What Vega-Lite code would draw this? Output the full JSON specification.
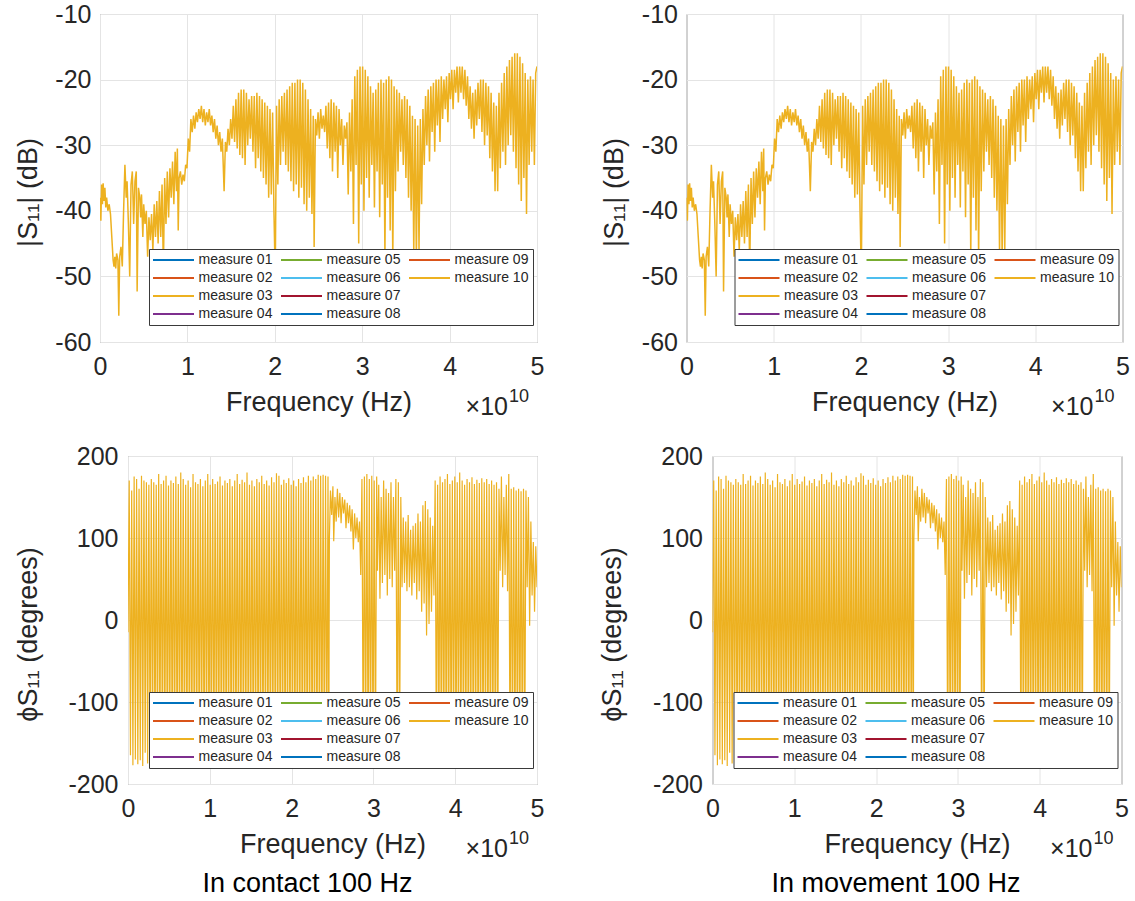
{
"$schema": "https://vega.github.io/schema/vega-lite/v6.json",
"background": "white",
"padding": {"left": 13, "top": 1, "right": 0, "bottom": 0},
"datasets": {
"mag": [
{"freq":0,"mag_db":-38},{"freq":0.01e10,"mag_db":-41.5},{"freq":0.018e10,"mag_db":-36},{"freq":0.028e10,"mag_db":-39},{"freq":0.036e10,"mag_db":-35.8},{"freq":0.046e10,"mag_db":-38.5},{"freq":0.056e10,"mag_db":-36.5},{"freq":0.066e10,"mag_db":-39.5},{"freq":0.076e10,"mag_db":-38},{"freq":0.09e10,"mag_db":-40},{"freq":0.105e10,"mag_db":-39},{"freq":0.12e10,"mag_db":-40.5},{"freq":0.135e10,"mag_db":-44},{"freq":0.15e10,"mag_db":-47.5},{"freq":0.16e10,"mag_db":-48.5},{"freq":0.17e10,"mag_db":-47},{"freq":0.18e10,"mag_db":-48.8},{"freq":0.19e10,"mag_db":-46.5},{"freq":0.205e10,"mag_db":-47.5},{"freq":0.215e10,"mag_db":-56},{"freq":0.225e10,"mag_db":-47},{"freq":0.24e10,"mag_db":-45.5},{"freq":0.255e10,"mag_db":-48.5},{"freq":0.27e10,"mag_db":-40},{"freq":0.285e10,"mag_db":-33},{"freq":0.3e10,"mag_db":-38},{"freq":0.31e10,"mag_db":-35.5},{"freq":0.325e10,"mag_db":-42},{"freq":0.34e10,"mag_db":-50},{"freq":0.355e10,"mag_db":-36},{"freq":0.37e10,"mag_db":-34},{"freq":0.385e10,"mag_db":-42},{"freq":0.4e10,"mag_db":-35.5},{"freq":0.415e10,"mag_db":-34},{"freq":0.425e10,"mag_db":-52.3},{"freq":0.44e10,"mag_db":-36.5},{"freq":0.455e10,"mag_db":-38},{"freq":0.465e10,"mag_db":-41},{"freq":0.475e10,"mag_db":-37.5},{"freq":0.49e10,"mag_db":-44},{"freq":0.5e10,"mag_db":-39},{"freq":0.515e10,"mag_db":-42},{"freq":0.53e10,"mag_db":-40},{"freq":0.545e10,"mag_db":-47},{"freq":0.56e10,"mag_db":-41},{"freq":0.575e10,"mag_db":-44.5},{"freq":0.59e10,"mag_db":-40.5},{"freq":0.605e10,"mag_db":-46},{"freq":0.62e10,"mag_db":-39},{"freq":0.635e10,"mag_db":-44},{"freq":0.65e10,"mag_db":-38.5},{"freq":0.665e10,"mag_db":-45},{"freq":0.68e10,"mag_db":-37},{"freq":0.695e10,"mag_db":-44},{"freq":0.71e10,"mag_db":-36},{"freq":0.725e10,"mag_db":-49},{"freq":0.74e10,"mag_db":-35},{"freq":0.755e10,"mag_db":-42},{"freq":0.77e10,"mag_db":-34},{"freq":0.785e10,"mag_db":-41},{"freq":0.8e10,"mag_db":-33.5},{"freq":0.815e10,"mag_db":-38},{"freq":0.83e10,"mag_db":-32.5},{"freq":0.845e10,"mag_db":-39},{"freq":0.86e10,"mag_db":-31},{"freq":0.875e10,"mag_db":-37},{"freq":0.885e10,"mag_db":-30.5},{"freq":0.895e10,"mag_db":-43},{"freq":0.905e10,"mag_db":-35},{"freq":0.92e10,"mag_db":-34},{"freq":0.935e10,"mag_db":-36},{"freq":0.95e10,"mag_db":-34.5},{"freq":0.965e10,"mag_db":-35.5},{"freq":0.98e10,"mag_db":-33},{"freq":0.995e10,"mag_db":-33.5},{"freq":1.01e10,"mag_db":-29},{"freq":1.025e10,"mag_db":-31},{"freq":1.04e10,"mag_db":-26},{"freq":1.055e10,"mag_db":-28},{"freq":1.07e10,"mag_db":-25.5},{"freq":1.085e10,"mag_db":-27.5},
{"freq":1.1e10,"mag_db":-25},{"freq":1.115e10,"mag_db":-26.5},{"freq":1.13e10,"mag_db":-24.5},{"freq":1.145e10,"mag_db":-26},{"freq":1.16e10,"mag_db":-24},{"freq":1.175e10,"mag_db":-26.5},{"freq":1.19e10,"mag_db":-24.5},{"freq":1.205e10,"mag_db":-27},{"freq":1.22e10,"mag_db":-25},{"freq":1.235e10,"mag_db":-26.5},{"freq":1.25e10,"mag_db":-24.5},{"freq":1.265e10,"mag_db":-27},{"freq":1.28e10,"mag_db":-25.5},{"freq":1.295e10,"mag_db":-28},{"freq":1.31e10,"mag_db":-26},{"freq":1.325e10,"mag_db":-29},{"freq":1.34e10,"mag_db":-27},{"freq":1.355e10,"mag_db":-30},{"freq":1.37e10,"mag_db":-28},{"freq":1.385e10,"mag_db":-31},{"freq":1.4e10,"mag_db":-29},{"freq":1.42e10,"mag_db":-37},{"freq":1.435e10,"mag_db":-29.5},{"freq":1.45e10,"mag_db":-31},{"freq":1.465e10,"mag_db":-27.5},{"freq":1.48e10,"mag_db":-30},{"freq":1.495e10,"mag_db":-26},{"freq":1.51e10,"mag_db":-29},{"freq":1.525e10,"mag_db":-24},{"freq":1.54e10,"mag_db":-29.5},{"freq":1.555e10,"mag_db":-23},{"freq":1.57e10,"mag_db":-30.5},{"freq":1.585e10,"mag_db":-22},{"freq":1.6e10,"mag_db":-31.5},{"freq":1.615e10,"mag_db":-21.5},{"freq":1.63e10,"mag_db":-32},{"freq":1.645e10,"mag_db":-21.5},{"freq":1.66e10,"mag_db":-33},{"freq":1.675e10,"mag_db":-22},{"freq":1.69e10,"mag_db":-30},{"freq":1.705e10,"mag_db":-23},{"freq":1.72e10,"mag_db":-29},{"freq":1.735e10,"mag_db":-22.5},{"freq":1.75e10,"mag_db":-31},{"freq":1.765e10,"mag_db":-22.5},{"freq":1.78e10,"mag_db":-33.5},{"freq":1.795e10,"mag_db":-22},{"freq":1.81e10,"mag_db":-32},{"freq":1.825e10,"mag_db":-22.5},{"freq":1.84e10,"mag_db":-34},{"freq":1.855e10,"mag_db":-23},{"freq":1.87e10,"mag_db":-35},{"freq":1.885e10,"mag_db":-23.5},{"freq":1.9e10,"mag_db":-36},{"freq":1.915e10,"mag_db":-24},{"freq":1.93e10,"mag_db":-38},{"freq":1.945e10,"mag_db":-24.5},{"freq":1.96e10,"mag_db":-37.5},{"freq":1.975e10,"mag_db":-25},{"freq":1.99e10,"mag_db":-40},{"freq":2.005e10,"mag_db":-50},{"freq":2.02e10,"mag_db":-24},{"freq":2.035e10,"mag_db":-36},{"freq":2.05e10,"mag_db":-23},{"freq":2.065e10,"mag_db":-33},{"freq":2.08e10,"mag_db":-22.5},{"freq":2.095e10,"mag_db":-31},{"freq":2.11e10,"mag_db":-22},{"freq":2.125e10,"mag_db":-33},{"freq":2.14e10,"mag_db":-21.5},{"freq":2.155e10,"mag_db":-34},{"freq":2.17e10,"mag_db":-21},{"freq":2.185e10,"mag_db":-35.5},{"freq":2.2e10,"mag_db":-20.5},{"freq":2.215e10,"mag_db":-37},{"freq":2.23e10,"mag_db":-20.5},{"freq":2.245e10,"mag_db":-36},{"freq":2.26e10,"mag_db":-20},{"freq":2.275e10,"mag_db":-38},{"freq":2.29e10,"mag_db":-20},{"freq":2.305e10,"mag_db":-36.5},{"freq":2.32e10,"mag_db":-20.5},{"freq":2.335e10,"mag_db":-39},{"freq":2.35e10,"mag_db":-21.5},{"freq":2.365e10,"mag_db":-40},{"freq":2.38e10,"mag_db":-23},{"freq":2.395e10,"mag_db":-38},{"freq":2.41e10,"mag_db":-24.5},{"freq":2.425e10,"mag_db":-40.5},{"freq":2.44e10,"mag_db":-25.5},{"freq":2.45e10,"mag_db":-45.5},
{"freq":2.465e10,"mag_db":-26},{"freq":2.48e10,"mag_db":-28.5},{"freq":2.495e10,"mag_db":-25},{"freq":2.51e10,"mag_db":-29},{"freq":2.525e10,"mag_db":-24.5},{"freq":2.54e10,"mag_db":-27.5},{"freq":2.555e10,"mag_db":-25.5},{"freq":2.57e10,"mag_db":-28},{"freq":2.585e10,"mag_db":-24},{"freq":2.6e10,"mag_db":-30.5},{"freq":2.615e10,"mag_db":-23.5},{"freq":2.63e10,"mag_db":-32},{"freq":2.645e10,"mag_db":-23},{"freq":2.66e10,"mag_db":-34},{"freq":2.675e10,"mag_db":-23.5},{"freq":2.69e10,"mag_db":-31},{"freq":2.705e10,"mag_db":-24},{"freq":2.72e10,"mag_db":-35},{"freq":2.735e10,"mag_db":-24.5},{"freq":2.75e10,"mag_db":-30},{"freq":2.765e10,"mag_db":-26},{"freq":2.78e10,"mag_db":-33},{"freq":2.795e10,"mag_db":-27},{"freq":2.81e10,"mag_db":-29},{"freq":2.825e10,"mag_db":-26.5},{"freq":2.84e10,"mag_db":-37.5},{"freq":2.855e10,"mag_db":-25},{"freq":2.87e10,"mag_db":-34},{"freq":2.885e10,"mag_db":-23},{"freq":2.9e10,"mag_db":-42},{"freq":2.915e10,"mag_db":-19.5},{"freq":2.93e10,"mag_db":-33},{"freq":2.945e10,"mag_db":-18.5},{"freq":2.96e10,"mag_db":-45},{"freq":2.975e10,"mag_db":-18},{"freq":2.99e10,"mag_db":-36},{"freq":3.005e10,"mag_db":-18},{"freq":3.02e10,"mag_db":-40},{"freq":3.035e10,"mag_db":-18.5},{"freq":3.05e10,"mag_db":-35},{"freq":3.065e10,"mag_db":-19.5},{"freq":3.08e10,"mag_db":-38},{"freq":3.095e10,"mag_db":-21},{"freq":3.11e10,"mag_db":-33},{"freq":3.125e10,"mag_db":-22},{"freq":3.14e10,"mag_db":-39.5},{"freq":3.155e10,"mag_db":-21.5},{"freq":3.17e10,"mag_db":-34},{"freq":3.185e10,"mag_db":-20.5},{"freq":3.2e10,"mag_db":-41},{"freq":3.215e10,"mag_db":-20},{"freq":3.23e10,"mag_db":-36},{"freq":3.245e10,"mag_db":-20.5},{"freq":3.26e10,"mag_db":-47},{"freq":3.275e10,"mag_db":-20},{"freq":3.29e10,"mag_db":-38},{"freq":3.305e10,"mag_db":-19.5},{"freq":3.32e10,"mag_db":-43},{"freq":3.335e10,"mag_db":-20},{"freq":3.35e10,"mag_db":-47.5},{"freq":3.365e10,"mag_db":-21},{"freq":3.38e10,"mag_db":-37},{"freq":3.395e10,"mag_db":-21.5},{"freq":3.41e10,"mag_db":-34},{"freq":3.425e10,"mag_db":-22},{"freq":3.44e10,"mag_db":-31},{"freq":3.455e10,"mag_db":-23},{"freq":3.47e10,"mag_db":-33},{"freq":3.485e10,"mag_db":-22.5},{"freq":3.5e10,"mag_db":-35},{"freq":3.515e10,"mag_db":-23},{"freq":3.53e10,"mag_db":-38},{"freq":3.545e10,"mag_db":-24},{"freq":3.56e10,"mag_db":-40},{"freq":3.575e10,"mag_db":-25.5},{"freq":3.59e10,"mag_db":-46.5},{"freq":3.605e10,"mag_db":-26},{"freq":3.62e10,"mag_db":-48},{"freq":3.635e10,"mag_db":-27},{"freq":3.65e10,"mag_db":-46},{"freq":3.665e10,"mag_db":-26},{"freq":3.68e10,"mag_db":-39},{"freq":3.695e10,"mag_db":-24.5},{"freq":3.71e10,"mag_db":-33},{"freq":3.725e10,"mag_db":-22.5},{"freq":3.74e10,"mag_db":-30},{"freq":3.755e10,"mag_db":-21.5},{"freq":3.77e10,"mag_db":-32.5},{"freq":3.785e10,"mag_db":-21},{"freq":3.8e10,"mag_db":-28},{"freq":3.815e10,"mag_db":-20.5},{"freq":3.83e10,"mag_db":-31},{"freq":3.845e10,"mag_db":-20},{"freq":3.86e10,"mag_db":-27},{"freq":3.875e10,"mag_db":-20},{"freq":3.89e10,"mag_db":-29.5},{"freq":3.905e10,"mag_db":-19.5},{"freq":3.92e10,"mag_db":-26},{"freq":3.935e10,"mag_db":-20},{"freq":3.95e10,"mag_db":-24.5},{"freq":3.965e10,"mag_db":-19.5},{"freq":3.98e10,"mag_db":-26.5},{"freq":3.995e10,"mag_db":-19},{"freq":4.01e10,"mag_db":-23},{"freq":4.025e10,"mag_db":-18.5},{"freq":4.04e10,"mag_db":-24.5},{"freq":4.055e10,"mag_db":-18.5},{"freq":4.07e10,"mag_db":-22},{"freq":4.085e10,"mag_db":-18},{"freq":4.1e10,"mag_db":-23.5},{"freq":4.115e10,"mag_db":-18},{"freq":4.13e10,"mag_db":-22},{"freq":4.145e10,"mag_db":-18},{"freq":4.16e10,"mag_db":-23},{"freq":4.175e10,"mag_db":-18.5},{"freq":4.19e10,"mag_db":-24},{"freq":4.205e10,"mag_db":-19.5},{"freq":4.22e10,"mag_db":-26},{"freq":4.235e10,"mag_db":-21},{"freq":4.25e10,"mag_db":-27.5},{"freq":4.265e10,"mag_db":-22},{"freq":4.28e10,"mag_db":-29},{"freq":4.295e10,"mag_db":-21.5},{"freq":4.31e10,"mag_db":-27},{"freq":4.325e10,"mag_db":-20.5},{"freq":4.34e10,"mag_db":-26},{"freq":4.355e10,"mag_db":-20},{"freq":4.37e10,"mag_db":-28},{"freq":4.385e10,"mag_db":-20},{"freq":4.4e10,"mag_db":-30},{"freq":4.415e10,"mag_db":-20.5},{"freq":4.43e10,"mag_db":-28.5},{"freq":4.445e10,"mag_db":-21},{"freq":4.46e10,"mag_db":-32},{"freq":4.475e10,"mag_db":-22},{"freq":4.49e10,"mag_db":-34},{"freq":4.505e10,"mag_db":-23.5},{"freq":4.52e10,"mag_db":-37},{"freq":4.535e10,"mag_db":-24},{"freq":4.55e10,"mag_db":-37},{"freq":4.565e10,"mag_db":-22},{"freq":4.58e10,"mag_db":-33.5},{"freq":4.595e10,"mag_db":-20.5},{"freq":4.61e10,"mag_db":-31},{"freq":4.625e10,"mag_db":-19},{"freq":4.64e10,"mag_db":-33},{"freq":4.655e10,"mag_db":-18},{"freq":4.67e10,"mag_db":-30},{"freq":4.685e10,"mag_db":-17},{"freq":4.7e10,"mag_db":-28.5},{"freq":4.715e10,"mag_db":-16.5},{"freq":4.73e10,"mag_db":-31},{"freq":4.745e10,"mag_db":-16},{"freq":4.76e10,"mag_db":-33.5},{"freq":4.775e10,"mag_db":-16},{"freq":4.79e10,"mag_db":-36},{"freq":4.805e10,"mag_db":-16.5},{"freq":4.82e10,"mag_db":-38.5},{"freq":4.835e10,"mag_db":-17.5},{"freq":4.85e10,"mag_db":-35},{"freq":4.865e10,"mag_db":-19},{"freq":4.88e10,"mag_db":-40.5},{"freq":4.895e10,"mag_db":-20},{"freq":4.91e10,"mag_db":-33},{"freq":4.925e10,"mag_db":-19.5},{"freq":4.94e10,"mag_db":-31},{"freq":4.955e10,"mag_db":-20},{"freq":4.97e10,"mag_db":-33},{"freq":4.985e10,"mag_db":-19},{"freq":5e10,"mag_db":-18}
],
"phase": [
{"freq":0,"phase_deg":-15},{"freq":0.015e10,"phase_deg":170},{"freq":0.03e10,"phase_deg":-165},{"freq":0.045e10,"phase_deg":158},{"freq":0.06e10,"phase_deg":-177},{"freq":0.075e10,"phase_deg":175},{"freq":0.09e10,"phase_deg":-170},{"freq":0.105e10,"phase_deg":172},{"freq":0.12e10,"phase_deg":-176},{"freq":0.135e10,"phase_deg":160},{"freq":0.15e10,"phase_deg":-171},{"freq":0.165e10,"phase_deg":176},{"freq":0.18e10,"phase_deg":-178},{"freq":0.195e10,"phase_deg":170},{"freq":0.21e10,"phase_deg":-162},{"freq":0.225e10,"phase_deg":168},{"freq":0.24e10,"phase_deg":-175},{"freq":0.255e10,"phase_deg":165},{"freq":0.27e10,"phase_deg":-178},{"freq":0.285e10,"phase_deg":172},{"freq":0.3e10,"phase_deg":-176},{"freq":0.315e10,"phase_deg":168},{"freq":0.33e10,"phase_deg":-179},{"freq":0.345e10,"phase_deg":165},{"freq":0.36e10,"phase_deg":-177},{"freq":0.375e10,"phase_deg":178},{"freq":0.39e10,"phase_deg":-178},{"freq":0.405e10,"phase_deg":166},{"freq":0.42e10,"phase_deg":-176},{"freq":0.435e10,"phase_deg":170},{"freq":0.45e10,"phase_deg":-179},{"freq":0.465e10,"phase_deg":176},{"freq":0.48e10,"phase_deg":-177},{"freq":0.495e10,"phase_deg":164},{"freq":0.51e10,"phase_deg":-178},{"freq":0.525e10,"phase_deg":170},{"freq":0.54e10,"phase_deg":-176},{"freq":0.555e10,"phase_deg":167},{"freq":0.57e10,"phase_deg":-179},{"freq":0.585e10,"phase_deg":175},{"freq":0.6e10,"phase_deg":-177},{"freq":0.615e10,"phase_deg":166},{"freq":0.63e10,"phase_deg":-178},{"freq":0.645e10,"phase_deg":180},{"freq":0.66e10,"phase_deg":-176},{"freq":0.675e10,"phase_deg":172},{"freq":0.69e10,"phase_deg":-179},{"freq":0.705e10,"phase_deg":165},{"freq":0.72e10,"phase_deg":-177},{"freq":0.735e10,"phase_deg":170},{"freq":0.75e10,"phase_deg":-178},{"freq":0.765e10,"phase_deg":162},{"freq":0.78e10,"phase_deg":-176},{"freq":0.795e10,"phase_deg":178},{"freq":0.81e10,"phase_deg":-179},{"freq":0.825e10,"phase_deg":168},{"freq":0.84e10,"phase_deg":-177},{"freq":0.855e10,"phase_deg":166},{"freq":0.87e10,"phase_deg":-178},{"freq":0.885e10,"phase_deg":172},{"freq":0.9e10,"phase_deg":-176},{"freq":0.915e10,"phase_deg":163},{"freq":0.93e10,"phase_deg":-179},{"freq":0.945e10,"phase_deg":170},{"freq":0.96e10,"phase_deg":-177},{"freq":0.975e10,"phase_deg":178},{"freq":0.99e10,"phase_deg":-178},{"freq":1.005e10,"phase_deg":165},{"freq":1.02e10,"phase_deg":-176},{"freq":1.035e10,"phase_deg":172},{"freq":1.05e10,"phase_deg":-179},{"freq":1.065e10,"phase_deg":166},{"freq":1.08e10,"phase_deg":-177},{"freq":1.095e10,"phase_deg":169},{"freq":1.11e10,"phase_deg":-178},{"freq":1.125e10,"phase_deg":175},{"freq":1.14e10,"phase_deg":-176},{"freq":1.155e10,"phase_deg":164},{"freq":1.17e10,"phase_deg":-179},{"freq":1.185e10,"phase_deg":170},{"freq":1.2e10,"phase_deg":-177},{"freq":1.215e10,"phase_deg":167},{"freq":1.23e10,"phase_deg":-178},{"freq":1.245e10,"phase_deg":172},{"freq":1.26e10,"phase_deg":-176},{"freq":1.275e10,"phase_deg":163},{"freq":1.29e10,"phase_deg":-179},{"freq":1.305e10,"phase_deg":170},{"freq":1.32e10,"phase_deg":-177},{"freq":1.335e10,"phase_deg":178},{"freq":1.35e10,"phase_deg":-178},{"freq":1.365e10,"phase_deg":166},{"freq":1.38e10,"phase_deg":-176},{"freq":1.395e10,"phase_deg":171},{"freq":1.41e10,"phase_deg":-179},{"freq":1.425e10,"phase_deg":168},{"freq":1.44e10,"phase_deg":-177},{"freq":1.455e10,"phase_deg":180},{"freq":1.47e10,"phase_deg":-178},{"freq":1.485e10,"phase_deg":165},{"freq":1.5e10,"phase_deg":-176},{"freq":1.515e10,"phase_deg":170},{"freq":1.53e10,"phase_deg":-179},{"freq":1.545e10,"phase_deg":163},{"freq":1.56e10,"phase_deg":-177},{"freq":1.575e10,"phase_deg":172},{"freq":1.59e10,"phase_deg":-178},{"freq":1.605e10,"phase_deg":168},{"freq":1.62e10,"phase_deg":-176},{"freq":1.635e10,"phase_deg":176},{"freq":1.65e10,"phase_deg":-179},{"freq":1.665e10,"phase_deg":166},{"freq":1.68e10,"phase_deg":-177},{"freq":1.695e10,"phase_deg":170},{"freq":1.71e10,"phase_deg":-178},{"freq":1.725e10,"phase_deg":164},{"freq":1.74e10,"phase_deg":-176},{"freq":1.755e10,"phase_deg":174},{"freq":1.77e10,"phase_deg":-179},{"freq":1.785e10,"phase_deg":168},{"freq":1.8e10,"phase_deg":-177},{"freq":1.815e10,"phase_deg":179},{"freq":1.83e10,"phase_deg":-178},{"freq":1.845e10,"phase_deg":176},{"freq":1.86e10,"phase_deg":-176},{"freq":1.875e10,"phase_deg":165},{"freq":1.89e10,"phase_deg":-179},{"freq":1.905e10,"phase_deg":171},{"freq":1.92e10,"phase_deg":-177},{"freq":1.935e10,"phase_deg":167},{"freq":1.95e10,"phase_deg":-178},{"freq":1.965e10,"phase_deg":173},{"freq":1.98e10,"phase_deg":-176},{"freq":1.995e10,"phase_deg":165},{"freq":2.01e10,"phase_deg":-179},{"freq":2.025e10,"phase_deg":170},{"freq":2.04e10,"phase_deg":-177},{"freq":2.055e10,"phase_deg":163},{"freq":2.07e10,"phase_deg":-178},{"freq":2.085e10,"phase_deg":172},{"freq":2.1e10,"phase_deg":-176},{"freq":2.115e10,"phase_deg":167},{"freq":2.13e10,"phase_deg":-179},{"freq":2.145e10,"phase_deg":174},{"freq":2.16e10,"phase_deg":-177},{"freq":2.175e10,"phase_deg":168},{"freq":2.19e10,"phase_deg":-178},{"freq":2.205e10,"phase_deg":176},{"freq":2.22e10,"phase_deg":-176},{"freq":2.235e10,"phase_deg":170},{"freq":2.25e10,"phase_deg":-179},{"freq":2.265e10,"phase_deg":175},{"freq":2.28e10,"phase_deg":-177},{"freq":2.295e10,"phase_deg":172},{"freq":2.31e10,"phase_deg":-178},{"freq":2.325e10,"phase_deg":177},{"freq":2.34e10,"phase_deg":-176},{"freq":2.355e10,"phase_deg":176},{"freq":2.37e10,"phase_deg":-179},{"freq":2.385e10,"phase_deg":177},{"freq":2.4e10,"phase_deg":-177},{"freq":2.415e10,"phase_deg":176},{"freq":2.43e10,"phase_deg":-178},{"freq":2.445e10,"phase_deg":175},{"freq":2.455e10,"phase_deg":-170},{"freq":2.462e10,"phase_deg":100},
{"freq":2.475e10,"phase_deg":158},{"freq":2.49e10,"phase_deg":128},{"freq":2.505e10,"phase_deg":163},{"freq":2.515e10,"phase_deg":96},{"freq":2.53e10,"phase_deg":150},{"freq":2.545e10,"phase_deg":120},{"freq":2.56e10,"phase_deg":160},{"freq":2.575e10,"phase_deg":125},{"freq":2.59e10,"phase_deg":155},{"freq":2.605e10,"phase_deg":118},{"freq":2.62e10,"phase_deg":150},{"freq":2.635e10,"phase_deg":130},{"freq":2.65e10,"phase_deg":147},{"freq":2.665e10,"phase_deg":112},{"freq":2.68e10,"phase_deg":143},{"freq":2.695e10,"phase_deg":118},{"freq":2.71e10,"phase_deg":140},{"freq":2.725e10,"phase_deg":108},{"freq":2.74e10,"phase_deg":135},{"freq":2.755e10,"phase_deg":86},{"freq":2.77e10,"phase_deg":130},{"freq":2.785e10,"phase_deg":100},{"freq":2.8e10,"phase_deg":125},{"freq":2.815e10,"phase_deg":95},{"freq":2.83e10,"phase_deg":120},{"freq":2.845e10,"phase_deg":55},{"freq":2.86e10,"phase_deg":172},
{"freq":2.875e10,"phase_deg":-178},{"freq":2.89e10,"phase_deg":175},{"freq":2.905e10,"phase_deg":-177},{"freq":2.92e10,"phase_deg":178},{"freq":2.935e10,"phase_deg":-179},{"freq":2.95e10,"phase_deg":172},{"freq":2.965e10,"phase_deg":-177},{"freq":2.98e10,"phase_deg":176},{"freq":2.995e10,"phase_deg":-178},{"freq":3.01e10,"phase_deg":170},{"freq":3.025e10,"phase_deg":-176},{"freq":3.04e10,"phase_deg":175},
{"freq":3.05e10,"phase_deg":60},{"freq":3.065e10,"phase_deg":165},{"freq":3.08e10,"phase_deg":26},{"freq":3.095e10,"phase_deg":150},{"freq":3.11e10,"phase_deg":45},{"freq":3.125e10,"phase_deg":170},{"freq":3.14e10,"phase_deg":55},{"freq":3.155e10,"phase_deg":160},{"freq":3.17e10,"phase_deg":30},{"freq":3.185e10,"phase_deg":155},{"freq":3.2e10,"phase_deg":50},{"freq":3.215e10,"phase_deg":168},{"freq":3.23e10,"phase_deg":40},{"freq":3.245e10,"phase_deg":150},{"freq":3.26e10,"phase_deg":60},{"freq":3.275e10,"phase_deg":172},
{"freq":3.29e10,"phase_deg":-178},{"freq":3.305e10,"phase_deg":168},{"freq":3.32e10,"phase_deg":-176},{"freq":3.335e10,"phase_deg":150},
{"freq":3.35e10,"phase_deg":40},{"freq":3.365e10,"phase_deg":125},{"freq":3.38e10,"phase_deg":45},{"freq":3.395e10,"phase_deg":120},{"freq":3.41e10,"phase_deg":35},{"freq":3.425e10,"phase_deg":128},{"freq":3.44e10,"phase_deg":40},{"freq":3.455e10,"phase_deg":110},{"freq":3.47e10,"phase_deg":30},{"freq":3.485e10,"phase_deg":115},{"freq":3.5e10,"phase_deg":45},{"freq":3.515e10,"phase_deg":118},{"freq":3.53e10,"phase_deg":25},{"freq":3.545e10,"phase_deg":130},{"freq":3.56e10,"phase_deg":35},{"freq":3.575e10,"phase_deg":120},{"freq":3.59e10,"phase_deg":10},{"freq":3.605e10,"phase_deg":140},{"freq":3.62e10,"phase_deg":20},{"freq":3.635e10,"phase_deg":145},{"freq":3.65e10,"phase_deg":-19},{"freq":3.665e10,"phase_deg":135},{"freq":3.68e10,"phase_deg":-5},{"freq":3.695e10,"phase_deg":125},{"freq":3.71e10,"phase_deg":10},{"freq":3.725e10,"phase_deg":115},{"freq":3.74e10,"phase_deg":30},{"freq":3.755e10,"phase_deg":170},
{"freq":3.77e10,"phase_deg":-177},{"freq":3.785e10,"phase_deg":165},{"freq":3.8e10,"phase_deg":-178},{"freq":3.815e10,"phase_deg":175},{"freq":3.83e10,"phase_deg":-176},{"freq":3.845e10,"phase_deg":168},{"freq":3.86e10,"phase_deg":-179},{"freq":3.875e10,"phase_deg":172},{"freq":3.89e10,"phase_deg":-177},{"freq":3.905e10,"phase_deg":178},{"freq":3.92e10,"phase_deg":-178},{"freq":3.935e10,"phase_deg":166},{"freq":3.95e10,"phase_deg":-176},{"freq":3.965e10,"phase_deg":170},{"freq":3.98e10,"phase_deg":-179},{"freq":3.995e10,"phase_deg":175},{"freq":4.01e10,"phase_deg":-177},{"freq":4.025e10,"phase_deg":168},{"freq":4.04e10,"phase_deg":-178},{"freq":4.055e10,"phase_deg":180},{"freq":4.07e10,"phase_deg":-176},{"freq":4.085e10,"phase_deg":170},{"freq":4.1e10,"phase_deg":-179},{"freq":4.115e10,"phase_deg":165},{"freq":4.13e10,"phase_deg":-177},{"freq":4.145e10,"phase_deg":172},{"freq":4.16e10,"phase_deg":-178},{"freq":4.175e10,"phase_deg":168},{"freq":4.19e10,"phase_deg":-176},{"freq":4.205e10,"phase_deg":174},{"freq":4.22e10,"phase_deg":-179},{"freq":4.235e10,"phase_deg":166},{"freq":4.25e10,"phase_deg":-177},{"freq":4.265e10,"phase_deg":171},{"freq":4.28e10,"phase_deg":-178},{"freq":4.295e10,"phase_deg":167},{"freq":4.31e10,"phase_deg":-176},{"freq":4.325e10,"phase_deg":173},{"freq":4.34e10,"phase_deg":-179},{"freq":4.355e10,"phase_deg":168},{"freq":4.37e10,"phase_deg":-177},{"freq":4.385e10,"phase_deg":172},{"freq":4.4e10,"phase_deg":-178},{"freq":4.415e10,"phase_deg":166},{"freq":4.43e10,"phase_deg":-176},{"freq":4.445e10,"phase_deg":170},{"freq":4.46e10,"phase_deg":-179},{"freq":4.475e10,"phase_deg":165},{"freq":4.49e10,"phase_deg":-177},{"freq":4.505e10,"phase_deg":168},{"freq":4.52e10,"phase_deg":-178},{"freq":4.535e10,"phase_deg":160},
{"freq":4.55e10,"phase_deg":60},{"freq":4.565e10,"phase_deg":175},{"freq":4.58e10,"phase_deg":40},{"freq":4.595e10,"phase_deg":150},{"freq":4.61e10,"phase_deg":55},{"freq":4.625e10,"phase_deg":165},{"freq":4.64e10,"phase_deg":35},{"freq":4.655e10,"phase_deg":178},
{"freq":4.67e10,"phase_deg":-177},{"freq":4.685e10,"phase_deg":160},{"freq":4.7e10,"phase_deg":-178},{"freq":4.715e10,"phase_deg":162},{"freq":4.73e10,"phase_deg":-176},{"freq":4.745e10,"phase_deg":158},{"freq":4.76e10,"phase_deg":-179},{"freq":4.775e10,"phase_deg":160},{"freq":4.79e10,"phase_deg":-177},{"freq":4.805e10,"phase_deg":157},{"freq":4.82e10,"phase_deg":-178},{"freq":4.835e10,"phase_deg":160},{"freq":4.85e10,"phase_deg":-176},{"freq":4.865e10,"phase_deg":158},
{"freq":4.88e10,"phase_deg":40},{"freq":4.895e10,"phase_deg":150},{"freq":4.91e10,"phase_deg":-7},{"freq":4.925e10,"phase_deg":120},{"freq":4.94e10,"phase_deg":30},{"freq":4.955e10,"phase_deg":95},{"freq":4.97e10,"phase_deg":10},{"freq":4.985e10,"phase_deg":90},{"freq":5e10,"phase_deg":40}
]
},
"config": {
"font": "Liberation Sans",
"view": {"stroke": "#7f7f7f", "strokeWidth": 1},
"axis": {"labelFont": "Liberation Sans", "labelFontSize": 25, "labelColor": "#262626", "titleFont": "Liberation Sans", "titleFontSize": 27, "titleFontWeight": "normal", "titleColor": "#262626", "grid": true, "gridColor": "#e4e4e4", "gridWidth": 1, "domain": false, "ticks": false, "labelFlush": false, "labelOverlap": false},
"legend": {"labelFont": "Liberation Sans", "labelFontSize": 14, "labelColor": "#262626", "symbolType": "M-4.1,0H4.1", "symbolSize": 100, "symbolStrokeWidth": 2, "symbolOffset": 13.5, "labelOffset": 18, "fillColor": "white", "strokeColor": "#3a3a3a", "padding": 4, "columnPadding": 4, "rowPadding": 4},
"title": {"font": "Liberation Sans", "fontSize": 27, "fontWeight": "normal", "color": "#000000"}
},
"resolve": {"scale": {"x": "independent", "y": "independent", "color": "independent"}},
"spacing": 22,
"vconcat": [
{
"spacing": 54.5,
"resolve": {"scale": {"x": "independent", "y": "independent", "color": "independent"}},
"hconcat": [
{
"width": 437, "height": 328,
"layer": [
{"data": {"name": "mag"}, "mark": {"type": "line", "strokeWidth": 1.5, "clip": true},
"encoding": {
"x": {"field": "freq", "type": "quantitative", "scale": {"domain": [0, 5e10], "nice": false, "zero": false}, "axis": {"values": [0, 1e10, 2e10, 3e10, 4e10, 5e10], "labelExpr": "'' + (datum.value / 1e10)", "title": "Frequency (Hz)", "labelPadding": 12, "titlePadding": 10}},
"y": {"field": "mag_db", "type": "quantitative", "scale": {"domain": [-60, -10], "nice": false, "zero": false}, "axis": {"values": [-60, -50, -40, -30, -20, -10], "labelExpr": "'' + datum.value", "title": "|S₁₁| (dB)", "labelPadding": 9, "titlePadding": 12.5, "titleY": 178}},
"color": {"datum": "measure 10", "type": "nominal", "scale": {"domain": ["measure 01", "measure 02", "measure 03", "measure 04", "measure 05", "measure 06", "measure 07", "measure 08", "measure 09", "measure 10", "blank"], "range": ["#0072BD", "#D95319", "#EDB120", "#7E2F8E", "#77AC30", "#4DBEEE", "#A2142F", "#0072BD", "#D95319", "#EDB120", "rgba(0,0,0,0)"]}, "legend": {"title": null, "orient": "none", "legendX": 49, "legendY": 235, "columns": 3, "labelExpr": "datum.label == 'blank' ? '' : datum.label"}}
}},
{"data": {"values": [{}]}, "mark": {"type": "text", "text": "×10", "align": "right", "baseline": "alphabetic", "fontSize": 25, "color": "#262626", "dx": -29, "dy": 73}, "encoding": {"x": {"datum": 5e10, "type": "quantitative"}, "y": {"datum": -60, "type": "quantitative"}}},
{"data": {"values": [{}]}, "mark": {"type": "text", "text": "10", "align": "right", "baseline": "alphabetic", "fontSize": 18, "color": "#262626", "dx": -8, "dy": 60}, "encoding": {"x": {"datum": 5e10, "type": "quantitative"}, "y": {"datum": -60, "type": "quantitative"}}}
]
},
{
"width": 436, "height": 328,
"layer": [
{"data": {"name": "mag"}, "mark": {"type": "line", "strokeWidth": 1.5, "clip": true},
"encoding": {
"x": {"field": "freq", "type": "quantitative", "scale": {"domain": [0, 5e10], "nice": false, "zero": false}, "axis": {"values": [0, 1e10, 2e10, 3e10, 4e10, 5e10], "labelExpr": "'' + (datum.value / 1e10)", "title": "Frequency (Hz)", "labelPadding": 12, "titlePadding": 10}},
"y": {"field": "mag_db", "type": "quantitative", "scale": {"domain": [-60, -10], "nice": false, "zero": false}, "axis": {"values": [-60, -50, -40, -30, -20, -10], "labelExpr": "'' + datum.value", "title": "|S₁₁| (dB)", "labelPadding": 9, "titlePadding": 12.5, "titleY": 178}},
"color": {"datum": "measure 10", "type": "nominal", "scale": {"domain": ["measure 01", "measure 02", "measure 03", "measure 04", "measure 05", "measure 06", "measure 07", "measure 08", "measure 09", "measure 10", "blank"], "range": ["#0072BD", "#D95319", "#EDB120", "#7E2F8E", "#77AC30", "#4DBEEE", "#A2142F", "#0072BD", "#D95319", "#EDB120", "rgba(0,0,0,0)"]}, "legend": {"title": null, "orient": "none", "legendX": 48, "legendY": 235, "columns": 3, "labelExpr": "datum.label == 'blank' ? '' : datum.label"}}
}},
{"data": {"values": [{}]}, "mark": {"type": "text", "text": "×10", "align": "right", "baseline": "alphabetic", "fontSize": 25, "color": "#262626", "dx": -29, "dy": 73}, "encoding": {"x": {"datum": 5e10, "type": "quantitative"}, "y": {"datum": -60, "type": "quantitative"}}},
{"data": {"values": [{}]}, "mark": {"type": "text", "text": "10", "align": "right", "baseline": "alphabetic", "fontSize": 18, "color": "#262626", "dx": -8, "dy": 60}, "encoding": {"x": {"datum": 5e10, "type": "quantitative"}, "y": {"datum": -60, "type": "quantitative"}}}
]
}
]
},
{
"spacing": 52.5,
"resolve": {"scale": {"x": "independent", "y": "independent", "color": "independent"}},
"hconcat": [
{
"spacing": -88,
"resolve": {"scale": {"x": "independent", "y": "independent", "color": "independent"}},
"hconcat": [
{"width": 1, "height": 1, "view": {"stroke": null}, "data": {"values": [{}]}, "mark": {"type": "text", "text": ""}, "encoding": {}},
{
"width": 409, "height": 328,
"title": {"text": "In contact 100 Hz", "orient": "bottom", "anchor": "middle", "frame": "group", "dx": -25, "offset": 9},
"layer": [
{"data": {"name": "phase"}, "mark": {"type": "line", "strokeWidth": 1.2, "clip": true},
"encoding": {
"x": {"field": "freq", "type": "quantitative", "scale": {"domain": [0, 5e10], "nice": false, "zero": false}, "axis": {"values": [0, 1e10, 2e10, 3e10, 4e10, 5e10], "labelExpr": "'' + (datum.value / 1e10)", "title": "Frequency (Hz)", "labelPadding": 12, "titlePadding": 10}},
"y": {"field": "phase_deg", "type": "quantitative", "scale": {"domain": [-200, 200], "nice": false, "zero": false}, "axis": {"values": [-200, -100, 0, 100, 200], "labelExpr": "'' + datum.value", "title": "ϕS₁₁  (degrees)", "labelPadding": 10, "titlePadding": 25.5, "titleY": 178}},
"color": {"datum": "measure 10", "type": "nominal", "scale": {"domain": ["measure 01", "measure 02", "measure 03", "measure 04", "measure 05", "measure 06", "measure 07", "measure 08", "measure 09", "measure 10", "blank"], "range": ["#0072BD", "#D95319", "#EDB120", "#7E2F8E", "#77AC30", "#4DBEEE", "#A2142F", "#0072BD", "#D95319", "#EDB120", "rgba(0,0,0,0)"]}, "legend": {"title": null, "orient": "none", "legendX": 21, "legendY": 236, "columns": 3, "labelExpr": "datum.label == 'blank' ? '' : datum.label"}}
}},
{"data": {"values": [{}]}, "mark": {"type": "text", "text": "×10", "align": "right", "baseline": "alphabetic", "fontSize": 25, "color": "#262626", "dx": -29, "dy": 73}, "encoding": {"x": {"datum": 5e10, "type": "quantitative"}, "y": {"datum": -200, "type": "quantitative"}}},
{"data": {"values": [{}]}, "mark": {"type": "text", "text": "10", "align": "right", "baseline": "alphabetic", "fontSize": 18, "color": "#262626", "dx": -8, "dy": 60}, "encoding": {"x": {"datum": 5e10, "type": "quantitative"}, "y": {"datum": -200, "type": "quantitative"}}}
]
}
]
},
{
"width": 409, "height": 328,
"title": {"text": "In movement 100 Hz", "orient": "bottom", "anchor": "middle", "frame": "group", "dx": -21, "offset": 9},
"layer": [
{"data": {"name": "phase"}, "mark": {"type": "line", "strokeWidth": 1.2, "clip": true},
"encoding": {
"x": {"field": "freq", "type": "quantitative", "scale": {"domain": [0, 5e10], "nice": false, "zero": false}, "axis": {"values": [0, 1e10, 2e10, 3e10, 4e10, 5e10], "labelExpr": "'' + (datum.value / 1e10)", "title": "Frequency (Hz)", "labelPadding": 12, "titlePadding": 10}},
"y": {"field": "phase_deg", "type": "quantitative", "scale": {"domain": [-200, 200], "nice": false, "zero": false}, "axis": {"values": [-200, -100, 0, 100, 200], "labelExpr": "'' + datum.value", "title": "ϕS₁₁  (degrees)", "labelPadding": 10, "titlePadding": 25.5, "titleY": 178}},
"color": {"datum": "measure 10", "type": "nominal", "scale": {"domain": ["measure 01", "measure 02", "measure 03", "measure 04", "measure 05", "measure 06", "measure 07", "measure 08", "measure 09", "measure 10", "blank"], "range": ["#0072BD", "#D95319", "#EDB120", "#7E2F8E", "#77AC30", "#4DBEEE", "#A2142F", "#0072BD", "#D95319", "#EDB120", "rgba(0,0,0,0)"]}, "legend": {"title": null, "orient": "none", "legendX": 21, "legendY": 236, "columns": 3, "labelExpr": "datum.label == 'blank' ? '' : datum.label"}}
}},
{"data": {"values": [{}]}, "mark": {"type": "text", "text": "×10", "align": "right", "baseline": "alphabetic", "fontSize": 25, "color": "#262626", "dx": -29, "dy": 73}, "encoding": {"x": {"datum": 5e10, "type": "quantitative"}, "y": {"datum": -200, "type": "quantitative"}}},
{"data": {"values": [{}]}, "mark": {"type": "text", "text": "10", "align": "right", "baseline": "alphabetic", "fontSize": 18, "color": "#262626", "dx": -8, "dy": 60}, "encoding": {"x": {"datum": 5e10, "type": "quantitative"}, "y": {"datum": -200, "type": "quantitative"}}}
]
}
]
}
]
}
